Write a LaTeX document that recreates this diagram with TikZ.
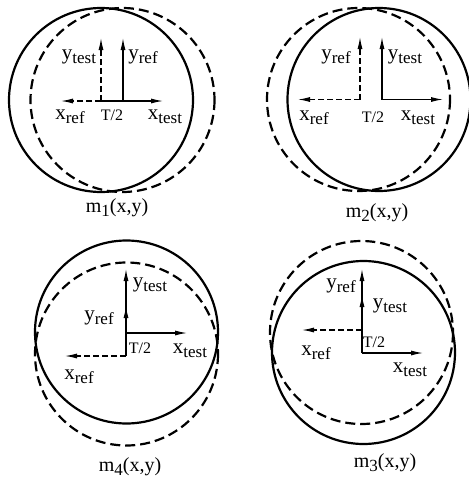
\documentclass[tikz,border=0pt]{standalone}
\usepackage{fontspec}
\setmainfont{Liberation Serif}
\usetikzlibrary{arrows.meta}
\newcommand\sbl[2]{#1\raisebox{-0.4ex}{\fontsize{17}{17}\selectfont #2}}
\tikzset{
  circsolid/.style={line width=2.2pt},
  circdash/.style={line width=2.2pt, dash pattern=on 10pt off 5pt},
  axsolid/.style={line width=1.1pt, -{Latex[length=12pt,width=5pt]}},
  axdash/.style={line width=1.1pt, dash pattern=on 6pt off 3pt, -{Latex[length=12pt,width=5pt]}},
  lbl/.style={inner sep=0pt, font=\fontsize{21}{22}\selectfont},
  half/.style={inner sep=0pt, font=\fontsize{16}{17}\selectfont},
  capt/.style={inner sep=0pt, font=\fontsize{20}{22}\selectfont}
}
\begin{document}
\begin{tikzpicture}[x=1pt,y=-1pt]
\useasboundingbox (0,0) rectangle (469,483);
% ---------- panel m1 ----------
\draw[circsolid] (101,100) circle (92);
\draw[circdash] (122.5,100) circle (92);
\coordinate (o1) at (101,101);
\coordinate (o1s) at (123,101);
\coordinate (yt1) at (101,38);
\coordinate (xr1) at (61,101);
\coordinate (yr1) at (123,38);
\coordinate (xt1) at (163,101);
\draw[axdash] (o1) -- (yt1);
\draw[axdash] (o1) -- (xr1);
\draw[axsolid] (o1s) -- (yr1);
\draw[axsolid] (o1) -- (xt1);
\node[lbl] (l1yt) at (79,57) {\sbl{y}{test}};
\node[lbl] (l1yr) at (143,57) {\sbl{y}{ref}};
\node[lbl] (l1xr) at (70,117) {\sbl{x}{ref}};
\node[half] (l1t) at (112,115) {T/2};
\node[lbl] (l1xt) at (165,117) {\sbl{x}{test}};
\node[capt] (c1) at (117,208) {\sbl{m}{1}(x,y)};
% ---------- panel m2 ----------
\draw[circsolid] (379,99.5) circle (91.5);
\draw[circdash] (358.5,99.5) circle (91.5);
\coordinate (o2) at (360,99.5);
\coordinate (o2s) at (382,99.5);
\coordinate (yr2) at (360,37);
\coordinate (xr2) at (298,99.5);
\coordinate (yt2) at (382,37);
\coordinate (xt2) at (443,99.5);
\draw[axdash] (o2) -- (yr2);
\draw[axdash] (o2) -- (xr2);
\draw[axsolid] (o2s) -- (yt2);
\draw[axsolid] (o2s) -- (xt2);
\node[lbl] (l2yr) at (336,57) {\sbl{y}{ref}};
\node[lbl] (l2yt) at (405,57) {\sbl{y}{test}};
\node[lbl] (l2xr) at (314,118) {\sbl{x}{ref}};
\node[half] (l2t) at (373,117) {T/2};
\node[lbl] (l2xt) at (418,118) {\sbl{x}{test}};
\node[capt] (c2) at (377,213) {\sbl{m}{2}(x,y)};
% ---------- panel m4 ----------
\draw[circsolid] (126.5,332) circle (91.5);
\draw[circdash] (126.5,354) circle (91.5);
\coordinate (o4r) at (126,356);
\coordinate (o4t) at (126,333);
\coordinate (yr4) at (126,306);
\coordinate (yt4) at (126,269);
\coordinate (xr4) at (65,356);
\coordinate (xt4) at (187,333);
\draw[axdash] (o4r) -- (xr4);
\draw[axsolid] (o4r) -- (yr4);
\draw[axsolid] (o4t) -- (yt4);
\draw[axsolid] (o4t) -- (xt4);
\node[lbl] (l4yt) at (150,285) {\sbl{y}{test}};
\node[lbl] (l4yr) at (99,318) {\sbl{y}{ref}};
\node[half] (l4t) at (140,348) {T/2};
\node[lbl] (l4xt) at (190,351) {\sbl{x}{test}};
\node[lbl] (l4xr) at (79,377) {\sbl{x}{ref}};
\node[capt] (c4) at (130,467) {\sbl{m}{4}(x,y)};
% ---------- panel m3 ----------
\draw[circsolid] (363.5,352.5) circle (91.5);
\draw[circdash] (361.5,332.5) circle (91.5);
\coordinate (o3r) at (362,330);
\coordinate (o3t) at (362,353);
\coordinate (yr3) at (362,269);
\coordinate (yt3) at (362,295);
\coordinate (xr3) at (302,330);
\coordinate (xt3) at (423,353);
\draw[axdash] (o3r) -- (xr3);
\draw[axsolid] (o3t) -- (yr3);
\draw[axsolid] (o3t) -- (yt3);
\draw[axsolid] (o3t) -- (xt3);
\node[lbl] (l3yr) at (341,286) {\sbl{y}{ref}};
\node[lbl] (l3yt) at (390,306) {\sbl{y}{test}};
\node[half] (l3t) at (374,342) {T/2};
\node[lbl] (l3xr) at (316,353) {\sbl{x}{ref}};
\node[lbl] (l3xt) at (410,370) {\sbl{x}{test}};
\node[capt] (c3) at (385,463) {\sbl{m}{3}(x,y)};
\end{tikzpicture}
\end{document}
